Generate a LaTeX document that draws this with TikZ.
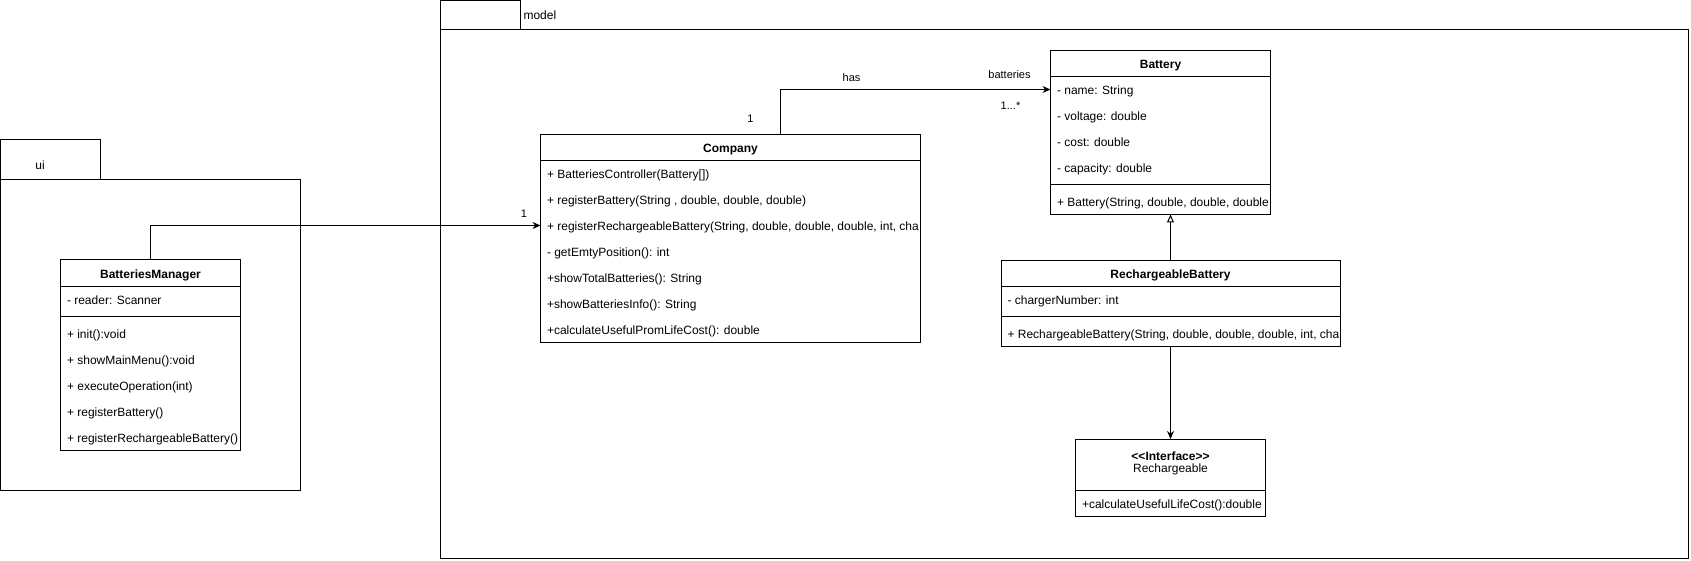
\documentclass[tikz,border=0pt]{standalone}
\usepackage{fontspec}
\setmainfont{Liberation Sans}
\usetikzlibrary{arrows.meta}
\tikzset{
  classbox/.style={draw, line width=1pt, anchor=north west, inner sep=0pt, outer sep=0pt},
  member/.style={anchor=west, inner sep=0pt, text height=13pt, text depth=3pt, font=\fontsize{12}{14}\selectfont},
  classname/.style={member, anchor=center, font=\fontsize{12}{14}\selectfont\bfseries},
  edgelabel/.style={inner sep=0pt, font=\fontsize{11}{13}\selectfont},
  assoc/.style={line width=1pt, -{Stealth[length=8pt,width=7pt]}},
  inherit/.style={line width=1pt, -{Triangle[open,length=8pt,width=7pt]}},
}
\begin{document}
\begin{tikzpicture}[x=1pt, y=-1pt, line width=1pt]
\useasboundingbox (0,0) rectangle (1691,561);

% packages
\draw (0.5,140) rectangle (100.5,180); % ui tab
\draw (0.5,180) rectangle (300.5,490); % ui body
\node[member, anchor=center] (uilabel) at (40,165) {ui};
\draw (440.5,0.5) rectangle (520.5,30); % model tab
\draw (440.5,30) rectangle (1688.5,558); % model body
\node[member] (modellabel) at (523,15) {model};

% BatteriesManager
\node[classbox, minimum width=180pt, minimum height=190pt] (manager) at (60.5,260) {};
\node[classname] (managername) at (150.5,273) {BatteriesManager};
\draw (60.5,286) -- (240.5,286); % header line
\node[member] (mreader) at (66.5,299) {- reader: Scanner};
\draw (60.5,316) -- (240.5,316); % divider
\node[member] (minit) at (66.5,333) {+ init():void};
\node[member] (mmenu) at (66.5,359) {+ showMainMenu():void};
\node[member] (mexec) at (66.5,385) {+ executeOperation(int)};
\node[member] (mreg) at (66.5,411) {+ registerBattery()};
\node[member] (mregr) at (66.5,437) {+ registerRechargeableBattery()};

% Company
\node[classbox, minimum width=380pt, minimum height=208pt] (company) at (540.5,134.5) {};
\node[classname] (companyname) at (730.5,147.5) {Company};
\draw (540.5,160.5) -- (920.5,160.5); % header line
\node[member] (cctrl) at (546.5,173.5) {+ BatteriesController(Battery[])};
\node[member] (creg) at (546.5,199.5) {+ registerBattery(String , double, double, double)};
\begin{scope}
\clip (540.5,212.5) rectangle (920,238.5);
\node[member] (cregr) at (546.5,225.5) {+ registerRechargeableBattery(String, double, double, double, int, cha};
\end{scope}
\node[member] (cpos) at (546.5,251.5) {- getEmtyPosition(): int};
\node[member] (ctotal) at (546.5,277.5) {+showTotalBatteries(): String};
\node[member] (cinfo) at (546.5,303.5) {+showBatteriesInfo(): String};
\node[member] (ccost) at (546.5,329.5) {+calculateUsefulPromLifeCost(): double};

% Battery
\node[classbox, minimum width=220pt, minimum height=164pt] (battery) at (1050.5,50.5) {};
\node[classname] (batteryname) at (1160.5,63.5) {Battery};
\draw (1050.5,76.5) -- (1270.5,76.5); % header line
\node[member] (bname) at (1056.5,89.5) {- name: String};
\node[member] (bvolt) at (1056.5,115.5) {- voltage: double};
\node[member] (bcost) at (1056.5,141.5) {- cost: double};
\node[member] (bcap) at (1056.5,167.5) {- capacity: double};
\draw (1050.5,184.5) -- (1270.5,184.5); % divider
\begin{scope}
\clip (1050.5,188.5) rectangle (1270,214.5);
\node[member] (bnew) at (1056.5,201.5) {+ Battery(String, double, double, double};
\end{scope}

% RechargeableBattery
\node[classbox, minimum width=339pt, minimum height=86pt] (rbattery) at (1001,260.5) {};
\node[classname] (rbatteryname) at (1170.5,273.5) {RechargeableBattery};
\draw (1001,286.5) -- (1340,286.5); % header line
\node[member] (rcharger) at (1007,299.5) {- chargerNumber: int};
\draw (1001,316.5) -- (1340,316.5); % divider
\begin{scope}
\clip (1001,320.5) rectangle (1339.5,346.5);
\node[member] (rnew) at (1007,333.5) {+ RechargeableBattery(String, double, double, double, int, cha};
\end{scope}

% Rechargeable interface
\node[classbox, minimum width=190pt, minimum height=77pt] (iface) at (1075.5,439) {};
\node[classname] (ifacestereo) at (1170.5,455) {<\kern0pt<Interface>\kern0pt>};
\node[member, anchor=center] (ifacename) at (1170.5,467.5) {Rechargeable};
\draw (1075.5,490) -- (1265.5,490); % divider
\node[member] (icost) at (1081.5,503) {+calculateUsefulLifeCost():double};

% connectors
\draw[assoc] (manager.north) |- (company.west |- cregr); % ui -> Company
\node[edgelabel] (mult1) at (524,213.5) {1};
\draw[assoc] ([xshift=50pt]company.north) |- (battery.west |- bname); % has
\node[edgelabel] (haslabel) at (851.5,77.5) {has};
\node[edgelabel] (mult2) at (750.5,119) {1};
\node[edgelabel] (rolelabel) at (1009.5,74.5) {batteries};
\node[edgelabel] (mult3) at (1010.5,105.5) {1...*};
\draw[inherit] (rbattery.north) -- (rbattery.north |- battery.south); % extends
\draw[assoc] (rbattery.south) -- (iface.north); % implements

\end{tikzpicture}
\end{document}
